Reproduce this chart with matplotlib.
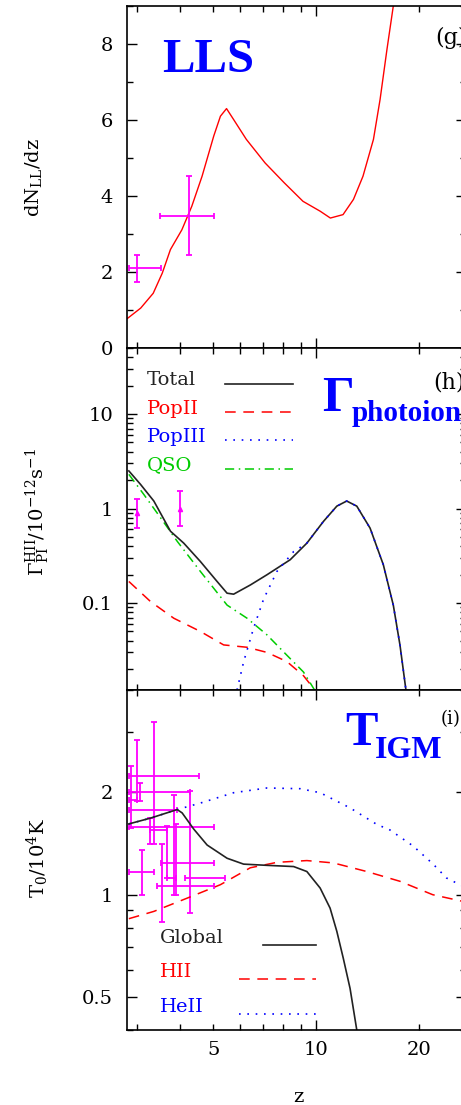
import matplotlib
matplotlib.use('Agg')
import matplotlib.pyplot as plt
from matplotlib.ticker import FixedLocator, FixedFormatter, NullFormatter

# ---- panel (g): LLS abundance ----
lls_z = [2.81, 3.07, 3.34, 3.55, 3.75, 4.05, 4.33, 4.64, 5.02, 5.25, 5.47, 5.73,
         6.25, 7.09, 8.06, 9.15, 10.27, 11.0, 11.98, 12.85, 13.7, 14.7, 15.37, 16.1, 16.8]
lls_dndz = [0.78, 1.05, 1.44, 1.97, 2.59, 3.11, 3.73, 4.52, 5.58, 6.10, 6.30, 6.02,
            5.49, 4.87, 4.35, 3.86, 3.60, 3.42, 3.51, 3.91, 4.52, 5.49, 6.54, 7.86, 9.0]
lls_obs_z = [3.0, 4.24]
lls_obs_val = [2.10, 3.48]
lls_obs_zlo = [2.83, 3.49]
lls_obs_zhi = [3.51, 5.02]
lls_obs_lo = [1.75, 2.45]
lls_obs_hi = [2.45, 4.52]

# ---- panel (h): photoionization rate ----
tot_z = [2.835, 3.067, 3.354, 3.751, 4.102, 4.587, 5.133, 5.49, 5.738, 6.418, 7.18,
         8.395, 9.391, 10.5, 11.49, 12.28, 13.14, 14.37, 15.71, 16.8, 17.57, 18.29]
tot_gam = [2.50, 1.80, 1.20, 0.575, 0.43, 0.275, 0.169, 0.127, 0.124, 0.155, 0.199,
           0.287, 0.43, 0.73, 1.06, 1.20, 1.06, 0.62, 0.254, 0.095, 0.036, 0.012]
pop2_z = [2.835, 3.281, 3.836, 4.587, 5.365, 6.28, 7.18, 8.21, 9.18, 9.82]
pop2_gam = [0.169, 0.1035, 0.069, 0.050, 0.036, 0.034, 0.030, 0.024, 0.017, 0.0125]
pop3_z = [5.87, 6.14, 6.56, 7.02, 7.68, 8.59, 9.391, 10.5, 11.49, 12.28, 13.14,
          14.37, 15.71, 16.8, 17.57, 18.29]
pop3_gam = [0.012, 0.024, 0.054, 0.11, 0.216, 0.35, 0.43, 0.73, 1.06, 1.20, 1.06,
            0.62, 0.254, 0.095, 0.036, 0.012]
qso_z = [2.835, 3.135, 3.508, 3.925, 4.587, 5.49, 6.28, 7.18, 8.21, 9.18, 10.04]
qso_gam = [2.30, 1.41, 0.80, 0.45, 0.216, 0.095, 0.069, 0.046, 0.028, 0.0186, 0.011]
gam_obs_z = [3.0, 4.01]
gam_obs_val = [0.90, 1.0]
gam_obs_lo = [0.62, 0.65]
gam_obs_hi = [1.25, 1.53]

# ---- panel (i): IGM temperature ----
glob_z = [2.835, 3.281, 3.925, 4.058, 4.386, 4.80, 5.49, 6.137, 7.18, 8.59, 9.391,
          10.27, 10.98, 11.49, 12.0, 12.56, 13.14]
glob_t = [1.615, 1.68, 1.78, 1.74, 1.56, 1.40, 1.28, 1.23, 1.22, 1.21, 1.17,
          1.046, 0.913, 0.78, 0.65, 0.53, 0.40]
hii_z = [2.835, 3.354, 4.197, 5.248, 6.418, 7.68, 9.391, 11.23, 14.05, 17.57, 21.9, 26.3, 27.4]
hii_t = [0.85, 0.893, 0.977, 1.07, 1.20, 1.245, 1.26, 1.24, 1.17, 1.095, 1.0, 0.96, 0.95]
heii_z = [2.835, 3.281, 3.925, 4.587, 5.738, 7.18, 8.98, 10.27, 12.56, 15.03, 16.43,
          19.21, 21.97, 24.03, 26.29, 27.4]
heii_t = [1.615, 1.68, 1.78, 1.86, 1.995, 2.06, 2.05, 1.995, 1.80, 1.61, 1.55,
          1.39, 1.23, 1.12, 1.07, 1.05]
t_obs_z = [3.0, 3.05, 3.35, 3.83, 3.66, 4.28, 3.55, 3.90, 2.88, 3.1, 3.27]
t_obs_val = [2.23, 2.0, 1.58, 1.78, 1.24, 1.12, 1.06, 1.12, 1.9, 1.17, 1.55]
t_obs_zlo = [2.83, 2.83, 2.83, 2.83, 3.51, 4.14, 3.43, 3.66, 2.83, 2.83, 3.27]
t_obs_zhi = [4.53, 4.28, 5.02, 3.92, 5.02, 5.43, 5.02, 3.90, 3.0, 3.35, 3.66]
t_obs_lo = [1.88, 1.88, 1.405, 1.0, 1.12, 0.883, 0.834, 1.0, 1.57, 1.0, 1.405]
t_obs_hi = [2.85, 2.13, 3.21, 1.97, 1.59, 2.02, 1.405, 1.61, 2.39, 1.35, 1.68]

x_minor = [3, 4, 5, 6, 7, 8, 9, 20]
x_minor_labels = ['', '', '5', '', '', '', '', '20']

plt.rcParams['font.family'] = ['DejaVu Serif']
plt.rcParams['mathtext.fontset'] = 'dejavuserif'

W, H = 461, 1105
fig = plt.figure(figsize=(W / 100, H / 100), dpi=100)


def panel(top, bottom):
    return fig.add_axes([127 / W, 1 - bottom / H, (466 - 127) / W, (bottom - top) / H])


def ftext(x, y, s, **kw):
    fig.text(x / W, 1 - y / H, s, **kw)


def style(ax, show_x):
    ax.set_xscale('log')
    ax.set_xlim(2.8, 27.4)
    ax.xaxis.set_major_locator(FixedLocator([10]))
    ax.xaxis.set_minor_locator(FixedLocator(x_minor))
    if show_x:
        ax.xaxis.set_major_formatter(FixedFormatter(['10']))
        ax.xaxis.set_minor_formatter(FixedFormatter(x_minor_labels))
    else:
        ax.xaxis.set_major_formatter(NullFormatter())
        ax.xaxis.set_minor_formatter(NullFormatter())
    ax.tick_params(which='both', direction='in', top=True, right=True, width=1.0,
                   labelsize=14)
    ax.tick_params(which='major', length=7)
    ax.tick_params(which='minor', length=4)
    ax.tick_params(axis='y', which='both', pad=10)
    ax.tick_params(axis='x', which='both', pad=8)
    for s in ax.spines.values():
        s.set_linewidth(1.2)


ebar = dict(fmt='none', ecolor='#ff00ff', elinewidth=1.3, capsize=2, capthick=1.3)
red_dash = dict(color='red', lw=1.1, dashes=(7, 5))
blue_dot = dict(color='blue', lw=1.2, dashes=(1, 4))
green_dd = dict(color='#00cc00', lw=1.1, dashes=(6, 3, 1, 3))
black_ln = dict(color='#222222', lw=1.2)

# (g)
ax1 = panel(6, 348)
ax1.plot(lls_z, lls_dndz, color='red', lw=1.0)
ax1.errorbar(lls_obs_z, lls_obs_val,
             xerr=[[z - a for z, a in zip(lls_obs_z, lls_obs_zlo)],
                   [b - z for z, b in zip(lls_obs_z, lls_obs_zhi)]],
             yerr=[[v - a for v, a in zip(lls_obs_val, lls_obs_lo)],
                   [b - v for v, b in zip(lls_obs_val, lls_obs_hi)]], **ebar)
style(ax1, False)
ax1.set_ylim(0, 9)
ax1.yaxis.set_major_locator(FixedLocator([0, 2, 4, 6, 8]))
ax1.yaxis.set_minor_locator(FixedLocator([1, 3, 5, 7, 9]))

# (h)
ax2 = panel(348, 690)
ax2.set_yscale('log')
ax2.plot(pop2_z, pop2_gam, **red_dash)
ax2.plot(qso_z, qso_gam, **green_dd)
ax2.plot(tot_z, tot_gam, **black_ln)
ax2.plot(pop3_z, pop3_gam, **blue_dot)
ax2.errorbar(gam_obs_z, gam_obs_val,
             yerr=[[v - a for v, a in zip(gam_obs_val, gam_obs_lo)],
                   [b - v for v, b in zip(gam_obs_val, gam_obs_hi)]],
             fmt='^', ms=3, color='#ff00ff', ecolor='#ff00ff', elinewidth=1.3,
             capsize=2, capthick=1.3)
style(ax2, False)
ax2.set_ylim(0.012, 50)
ax2.yaxis.set_major_locator(FixedLocator([0.1, 1, 10]))
ax2.yaxis.set_major_formatter(FixedFormatter(['0.1', '1', '10']))
ax2.yaxis.set_minor_formatter(NullFormatter())

leg2 = [('Total', black_ln), ('PopII', red_dash), ('PopIII', blue_dot), ('QSO', green_dd)]
for i, (name, st) in enumerate(leg2):
    yy = 0.906 - i * 0.083
    ax2.text(0.059, yy, name, transform=ax2.transAxes, color=st['color'],
             fontsize=14, va='center')
    ax2.plot([0.289, 0.49], [yy - 0.01, yy - 0.01], transform=ax2.transAxes, **st)

# (i)
ax3 = panel(690, 1030)
ax3.set_yscale('log')
ax3.errorbar(t_obs_z, t_obs_val,
             xerr=[[z - a for z, a in zip(t_obs_z, t_obs_zlo)],
                   [b - z for z, b in zip(t_obs_z, t_obs_zhi)]],
             yerr=[[v - a for v, a in zip(t_obs_val, t_obs_lo)],
                   [b - v for v, b in zip(t_obs_val, t_obs_hi)]], **ebar)
ax3.plot(hii_z, hii_t, **red_dash)
ax3.plot(heii_z, heii_t, **blue_dot)
ax3.plot(glob_z, glob_t, **black_ln)
style(ax3, True)
ax3.set_ylim(0.4, 4)
ax3.yaxis.set_major_locator(FixedLocator([0.5, 1, 2]))
ax3.yaxis.set_major_formatter(FixedFormatter(['0.5', '1', '2']))
ax3.yaxis.set_minor_locator(FixedLocator([0.4, 0.6, 0.7, 0.8, 0.9, 3, 4]))
ax3.yaxis.set_minor_formatter(NullFormatter())

leg3 = [('Global', black_ln, 0.401), ('HII', red_dash, 0.33), ('HeII', blue_dot, 0.33)]
for i, (name, st, x0) in enumerate(leg3):
    yy = 0.271 - i * 0.1015
    ax3.text(0.097, yy, name, transform=ax3.transAxes, color=st['color'],
             fontsize=14, va='center')
    ax3.plot([x0, 0.557], [yy - 0.02, yy - 0.02], transform=ax3.transAxes, **st)

# axis titles
ftext(34, 177, r'$\mathrm{dN_{LL}/dz}$', rotation=90, ha='center', va='center', fontsize=14)
ftext(38, 512, r'$\Gamma_{\mathrm{PI}}^{\mathrm{HII}}/10^{-12}\mathrm{s}^{-1}$',
      rotation=90, ha='center', va='center', fontsize=14)
ftext(38, 858, r'$\mathrm{T_0/10^4K}$', rotation=90, ha='center', va='center', fontsize=14)
ftext(298, 1097, 'z', ha='center', va='center', fontsize=14)

# big labels
big = dict(family='Liberation Serif', weight='bold', color='blue', va='baseline')
ftext(162, 72, 'LLS', fontsize=35, **big)
ftext(322, 411, '\u0393', fontsize=36, **big)
ftext(352, 421, 'photoionization', fontsize=21, **big)
ftext(345, 745, 'T', fontsize=35, **big)
ftext(375, 758, 'IGM', fontsize=23, **big)

ftext(435, 44, '(g)', fontsize=16, va='baseline')
ftext(433, 388, '(h)', fontsize=16, va='baseline')
ftext(441, 724, '(i)', fontsize=13, va='baseline')

fig.savefig('out.png', dpi=100)
